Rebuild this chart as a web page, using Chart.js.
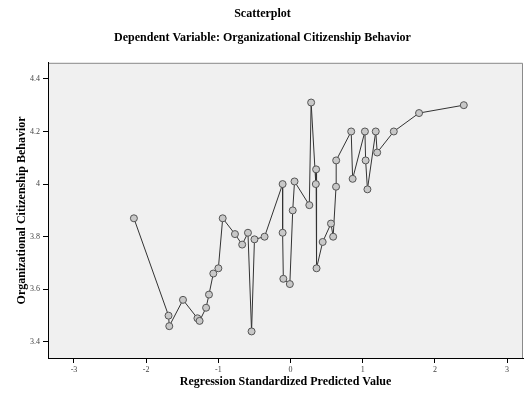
<!DOCTYPE html>
<html>
<head>
<meta charset="utf-8">
<script src="https://cdn.jsdelivr.net/npm/chart.js@4/dist/chart.umd.min.js"></script>
<style>
  html, body { margin: 0; padding: 0; background: #fff; }
  canvas { display: block; }
</style>
</head>
<body>
<canvas id="chart" width="528" height="400"></canvas>
<script>
// predicted value (x) and observed behaviour (y), ordered by x
const xValues = [
  -2.17, -1.69, -1.68, -1.49, -1.29, -1.26, -1.17, -1.13, -1.07, -1.00,
  -0.94, -0.77, -0.67, -0.59, -0.54, -0.50, -0.36, -0.11, -0.11, -0.10,
  -0.01, 0.03, 0.055, 0.26, 0.285, 0.35, 0.354, 0.36, 0.445, 0.56,
  0.59, 0.63, 0.632, 0.84, 0.86, 1.03, 1.04, 1.065, 1.18, 1.20,
  1.43, 1.78, 2.40
];
const yValues = [
  3.87, 3.50, 3.46, 3.56, 3.49, 3.48, 3.53, 3.58, 3.66, 3.68,
  3.87, 3.81, 3.77, 3.815, 3.44, 3.79, 3.80, 4.00, 3.815, 3.64,
  3.62, 3.90, 4.01, 3.92, 4.31, 4.00, 4.056, 3.68, 3.78, 3.85,
  3.80, 3.99, 4.09, 4.20, 4.02, 4.20, 4.09, 3.98, 4.20, 4.12,
  4.20, 4.27, 4.30
];
const xTicks = [-3, -2, -1, 0, 1, 2, 3];
const yTicks = [3.4, 3.6, 3.8, 4, 4.2, 4.4];

const points = xValues.map((x, i) => ({ x: x, y: yValues[i] }));

const plotBackground = {
  id: 'plotBackground',
  beforeDraw(chart) {
    const { ctx, chartArea: a } = chart;
    ctx.save();
    ctx.fillStyle = '#f0f0f0';
    ctx.fillRect(a.left, a.top, a.right - a.left, a.bottom - a.top);
    ctx.strokeStyle = '#8a8a8a';
    ctx.lineWidth = 1;
    ctx.beginPath();
    ctx.moveTo(a.left, a.top + 0.5);
    ctx.lineTo(a.right - 0.5, a.top + 0.5);
    ctx.lineTo(a.right - 0.5, a.bottom);
    ctx.stroke();
    ctx.restore();
  }
};

const serif = 'Liberation Serif';

new Chart(document.getElementById('chart').getContext('2d'), {
  type: 'scatter',
  data: {
    datasets: [{
      data: points,
      showLine: true,
      borderColor: '#333',
      borderWidth: 1,
      pointRadius: 3.5,
      pointBackgroundColor: '#c8c8c8',
      pointBorderColor: '#555',
      pointBorderWidth: 1,
    }],
  },
  options: {
    responsive: false,
    animation: false,
    layout: { padding: { right: 3 } },
    plugins: {
      legend: { display: false },
      tooltip: { enabled: false },
      title: {
        display: true,
        text: 'Scatterplot',
        color: '#000',
        font: { family: serif, size: 12, weight: 'bold' },
        padding: { top: 7, bottom: 3 },
      },
      subtitle: {
        display: true,
        text: 'Dependent Variable: Organizational Citizenship Behavior',
        color: '#000',
        font: { family: serif, size: 12, weight: 'bold' },
        padding: { top: 6, bottom: 18 },
      },
    },
    scales: {
      x: {
        type: 'linear',
        min: -3.36,
        max: 3.22,
        afterFit(scale) { scale.height = 42; },
        afterBuildTicks(scale) { scale.ticks = xTicks.map(v => ({ value: v })); },
        grid: { drawOnChartArea: false, tickLength: 5, color: '#000' },
        border: { color: '#000', width: 1 },
        ticks: {
          color: '#444',
          padding: 2,
          font: { family: serif, size: 8 },
          maxRotation: 0,
          callback: v => String(v),
        },
        title: {
          display: true,
          text: 'Regression Standardized Predicted Value',
          color: '#000',
          font: { family: serif, size: 12, weight: 'bold' },
          padding: { top: 0, bottom: 11 },
        },
      },
      y: {
        type: 'linear',
        min: 3.339,
        max: 4.461,
        afterFit(scale) { scale.width = 48; },
        afterBuildTicks(scale) { scale.ticks = yTicks.map(v => ({ value: v })); },
        grid: { drawOnChartArea: false, tickLength: 5, color: '#000' },
        border: { color: '#000', width: 1 },
        ticks: {
          color: '#444',
          padding: 3,
          font: { family: serif, size: 8 },
          callback: v => String(v),
        },
        title: {
          display: true,
          text: 'Organizational Citizenship Behavior',
          color: '#000',
          font: { family: serif, size: 12, weight: 'bold' },
          padding: { top: 15, bottom: 0 },
        },
      },
    },
  },
  plugins: [plotBackground],
});
</script>
</body>
</html>
